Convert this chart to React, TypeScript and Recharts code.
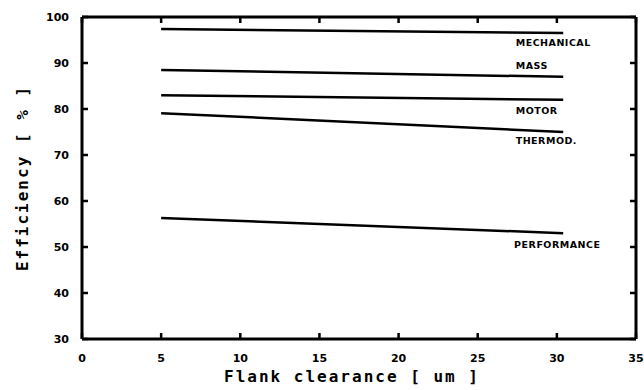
import { LineChart, Line, XAxis, YAxis, ReferenceDot } from 'recharts'

const clearance = [5, 30.4]
const mechanical = [97.4, 96.5]
const mass = [88.5, 87.0]
const motor = [83.0, 82.0]
const thermod = [79.1, 75.0]
const performance = [56.3, 53.0]

const xTicks = [0, 5, 10, 15, 20, 25, 30, 35]
const yTicks = [30, 40, 50, 60, 70, 80, 90, 100]

const curveNames = ['MECHANICAL', 'MASS', 'MOTOR', 'THERMOD.', 'PERFORMANCE']
const labelX = [27.4, 27.4, 27.4, 27.4, 27.3]
const labelY = [94.6, 89.6, 79.8, 73.3, 50.7]

const data = clearance.map((x, i) => ({
  x,
  mechanical: mechanical[i],
  mass: mass[i],
  motor: motor[i],
  thermod: thermod[i],
  performance: performance[i],
}))

const seriesKeys = ['mechanical', 'mass', 'motor', 'thermod', 'performance']

const tickStyle = {
  fill: '#000',
  fontSize: 11,
  fontWeight: 700,
  fontFamily: 'DejaVu Sans',
}

const titleStyle = {
  fill: '#000',
  fontSize: 16,
  fontWeight: 700,
  fontFamily: 'DejaVu Sans Mono',
  letterSpacing: 2,
}

const frameLine = { stroke: '#000', strokeWidth: 3 }
const tickMark = { stroke: '#000', strokeWidth: 2.5 }
// inner tick marks only, no label
const noLabel = () => <g />

export default function App() {
  return (
    <div style={{ position: 'absolute', left: 0, top: 0, background: '#fff' }}>
      <LineChart
        width={644}
        height={390}
        data={data}
        margin={{ top: 17, right: 8, bottom: 0, left: 0 }}
      >
        <XAxis
          dataKey="x"
          type="number"
          domain={[0, 35]}
          ticks={xTicks}
          tick={tickStyle}
          stroke="#000"
          tickLine={false}
          tickMargin={9}
          height={51}
          axisLine={frameLine}
          label={() => (
            <text x={352} y={382} textAnchor="middle" style={titleStyle}>
              Flank clearance [ um ]
            </text>
          )}
        />
        <XAxis
          xAxisId="bm"
          dataKey="x"
          type="number"
          orientation="bottom"
          mirror
          domain={[0, 35]}
          ticks={xTicks}
          tick={noLabel}
          stroke="#000"
          tickSize={6}
          axisLine={false}
          tickLine={tickMark}
        />
        <XAxis
          xAxisId="top"
          dataKey="x"
          type="number"
          orientation="top"
          mirror
          domain={[0, 35]}
          ticks={xTicks}
          tick={noLabel}
          stroke="#000"
          tickSize={6}
          axisLine={frameLine}
          tickLine={tickMark}
        />
        <YAxis
          type="number"
          domain={[30, 100]}
          ticks={yTicks}
          tick={tickStyle}
          stroke="#000"
          tickLine={false}
          tickMargin={7}
          width={82}
          axisLine={frameLine}
          label={() => (
            <text
              x={0}
              y={0}
              transform="translate(28 178) rotate(-90)"
              textAnchor="middle"
              style={titleStyle}
            >
              Efficiency [ % ]
            </text>
          )}
        />
        <YAxis
          yAxisId="lm"
          type="number"
          orientation="left"
          mirror
          domain={[30, 100]}
          ticks={yTicks}
          tick={noLabel}
          stroke="#000"
          tickSize={6}
          axisLine={false}
          tickLine={tickMark}
        />
        <YAxis
          yAxisId="right"
          type="number"
          orientation="right"
          mirror
          domain={[30, 100]}
          ticks={yTicks}
          tick={noLabel}
          stroke="#000"
          tickSize={6}
          axisLine={frameLine}
          tickLine={tickMark}
        />
        {seriesKeys.map((k) => (
          <Line
            key={k}
            dataKey={k}
            type="linear"
            stroke="#000"
            strokeWidth={2.5}
            dot={false}
            isAnimationActive={false}
          />
        ))}
        <Line
          xAxisId="bm"
          yAxisId="lm"
          dataKey="mechanical"
          stroke="none"
          dot={false}
          activeDot={false}
          isAnimationActive={false}
        />
        <Line
          xAxisId="top"
          yAxisId="right"
          dataKey="mechanical"
          stroke="none"
          dot={false}
          activeDot={false}
          isAnimationActive={false}
        />
        {curveNames.map((name, i) => (
          <ReferenceDot
            key={name}
            x={labelX[i]}
            y={labelY[i]}
            r={0}
            fill="none"
            stroke="none"
            label={(p: any) => (
              <text
                x={p.viewBox?.x ?? 0}
                y={(p.viewBox?.y ?? 0) + 4}
                fill="#000"
                fontSize={9.5}
                fontWeight={700}
                fontFamily="DejaVu Sans"
                letterSpacing={0.5}
              >
                {name}
              </text>
            )}
          />
        ))}
      </LineChart>
    </div>
  )
}
